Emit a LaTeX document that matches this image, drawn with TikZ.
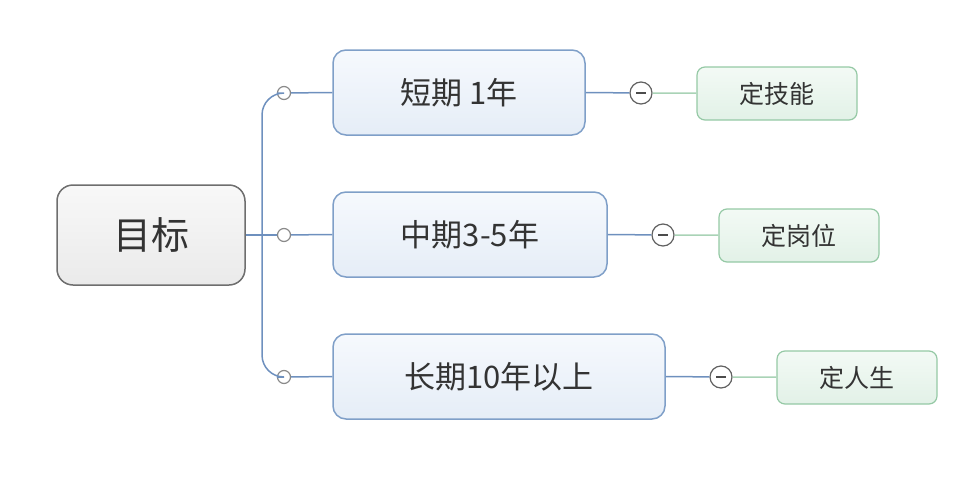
\documentclass[tikz,border=0pt]{standalone}
\usepackage{fontspec}
\setmainfont{Noto Sans CJK SC}
\usepackage{tikz}
\definecolor{rootline}{HTML}{6E6E6E}
\definecolor{roottop}{HTML}{F8F8F8}
\definecolor{rootbot}{HTML}{EAEAEA}
\definecolor{bluebox}{HTML}{7F9FC8}
\definecolor{bluetop}{HTML}{F6F9FD}
\definecolor{bluebot}{HTML}{E5EDF7}
\definecolor{blueline}{HTML}{6E90BE}
\definecolor{greenbox}{HTML}{95C9A5}
\definecolor{greentop}{HTML}{F3FAF5}
\definecolor{greenbot}{HTML}{E2F1E7}
\definecolor{greenline}{HTML}{A9D3B6}
\definecolor{knob}{HTML}{8A8A8A}
\definecolor{ink}{HTML}{333333}
\tikzset{
  rootbox/.style={draw=rootline,line width=1.5pt,rounded corners=16pt,top color=roottop,bottom color=rootbot,minimum width=188pt,minimum height=100pt,font=\fontsize{38}{38}\selectfont,text=ink},
  termbox/.style={draw=bluebox,line width=1.5pt,rounded corners=13pt,top color=bluetop,bottom color=bluebot,minimum height=85pt,font=\fontsize{31}{31}\selectfont,text=ink},
  goalbox/.style={draw=greenbox,line width=1.2pt,rounded corners=8pt,top color=greentop,bottom color=greenbot,minimum width=160pt,minimum height=53pt,font=\fontsize{25}{25}\selectfont,text=ink},
  dot/.style={circle,draw=knob,line width=1.2pt,fill=white,inner sep=0pt,minimum size=13pt},
  minus/.style={circle,draw=knob!70!black,line width=1.2pt,fill=white,inner sep=0pt,minimum size=22pt,path picture={\draw[line width=1.6pt,black!70] ([xshift=-5pt]path picture bounding box.center) -- ([xshift=5pt]path picture bounding box.center);}},
}
\begin{document}
\begin{tikzpicture}[x=1pt,y=-1pt]
  \useasboundingbox (0,0) rectangle (960,479);
  % root
  \node[rootbox] (goal) at (151,235) {目标};
  % terms
  \node[termbox,minimum width=252pt] (short) at (459,92.5) {短期 1年};
  \node[termbox,minimum width=274pt] (mid) at (470,234.5) {中期3-5年};
  \node[termbox,minimum width=332pt] (long) at (499,376.5) {长期10年以上};
  % knobs
  \coordinate (fork) at (262,235);
  \node[dot] (k1) at (284,93) {};
  \node[dot] (k2) at (284,235) {};
  \node[dot] (k3) at (284,377) {};
  \draw[blueline,line width=1.5pt] (goal.east) -- (fork);
  \draw[blueline,line width=1.5pt,rounded corners=22pt] (fork) |- (k1.west);
  \draw[blueline,line width=1.5pt,rounded corners=22pt] (fork) |- (k3.west);
  \draw[blueline,line width=1.5pt] (fork) -- (k2.west);
  \draw[blueline,line width=1.5pt] (k1) -- (short.west);
  \draw[blueline,line width=1.5pt] (k2) -- (mid.west);
  \draw[blueline,line width=1.5pt] (k3) -- (long.west);
  % goals
  \node[minus] (m1) at (641,93) {};
  \node[minus] (m2) at (663,235) {};
  \node[minus] (m3) at (721,377) {};
  \node[goalbox] (skill) at (777,93.5) {定技能};
  \node[goalbox] (post) at (799,235.5) {定岗位};
  \node[goalbox] (life) at (857,377.5) {定人生};
  \draw[blueline,line width=1.5pt] (short.east) -- (m1);
  \draw[blueline,line width=1.5pt] (mid.east) -- (m2);
  \draw[blueline,line width=1.5pt] (long.east) -- (m3);
  \draw[greenline,line width=1.5pt] (m1) -- (skill);
  \draw[greenline,line width=1.5pt] (m2) -- (post);
  \draw[greenline,line width=1.5pt] (m3) -- (life);
\end{tikzpicture}
\end{document}
